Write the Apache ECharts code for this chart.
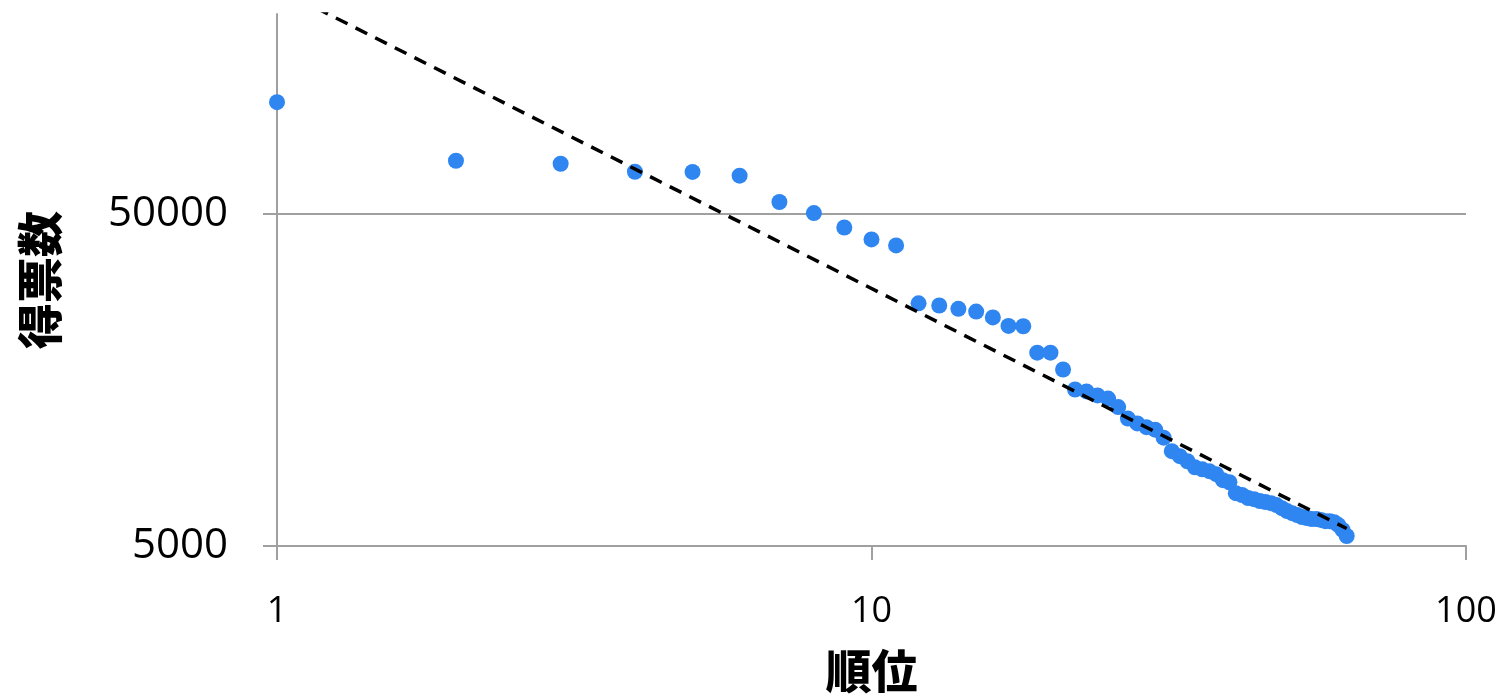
<!DOCTYPE html>
<html>
<head>
<meta charset="utf-8">
<script src="https://cdn.jsdelivr.net/npm/echarts@6/dist/echarts.min.js"></script>
<style>
html,body{margin:0;padding:0;background:#fff;}
#c{width:1503px;height:699px;}
</style>
</head>
<body>
<div id="c"></div>
<script>
// 順位 (rank)
const ranks = [];
for (let i = 1; i <= 63; i++) ranks.push(i);
// 得票数 (votes)
const votes = [
  108500, 72300, 70800, 67000, 66900, 65200, 54300, 50300, 45500, 41900,
  40200, 26900, 26500, 25900, 25400, 24400, 23000, 22950, 19100, 19100,
  17000, 14800, 14600, 14200, 13900, 13100, 12100, 11700, 11400, 11200,
  10600, 9650, 9320, 9000, 8630, 8510, 8400, 8230, 7890, 7780,
  7210, 7120, 6970, 6920, 6830, 6780, 6730, 6640, 6500, 6370,
  6280, 6200, 6110, 6070, 6030, 6030, 5990, 5940, 5940, 5900,
  5780, 5590, 5360
];
const xTicks = [1, 10, 100];
const yTicks = [5000, 50000];

// power trendline (least squares in log-log space)
const lx = ranks.map(Math.log10), ly = votes.map(Math.log10);
const n = lx.length;
const mx = lx.reduce((a, b) => a + b, 0) / n, my = ly.reduce((a, b) => a + b, 0) / n;
let sxy = 0, sxx = 0;
for (let i = 0; i < n; i++) { sxy += (lx[i] - mx) * (ly[i] - my); sxx += (lx[i] - mx) ** 2; }
const slope = sxy / sxx, icpt = my - slope * mx;
const trendX = [ranks[0], ranks[n - 1]];
const trend = trendX.map(x => [x, Math.pow(10, icpt + slope * Math.log10(x))]);

const chart = echarts.init(document.getElementById('c'), null, {renderer: 'canvas'});
chart.setOption({
  animation: false,
  grid: {left: 277, right: 37, top: 14, bottom: 152},
  xAxis: {
    type: 'log', logBase: 10, min: 1, max: 100,
    name: '順位', nameLocation: 'middle', nameGap: 102,
    nameTextStyle: {fontFamily: 'Noto Sans CJK JP', fontWeight: 900, fontSize: 46, color: '#000'},
    axisLine: {lineStyle: {color: '#a0a0a0', width: 2}},
    axisTick: {show: true, length: 14, customValues: xTicks, lineStyle: {color: '#a0a0a0', width: 2}},
    axisLabel: {fontFamily: 'Open Sans', fontSize: 36, color: '#000', margin: 48,
      customValues: xTicks, formatter: v => String(Math.round(v))},
    splitLine: {show: false}
  },
  yAxis: {
    type: 'log', logBase: 10, min: 5000, max: 200000,
    name: '得票数', nameLocation: 'middle', nameGap: 214, nameRotate: 90,
    nameTextStyle: {fontFamily: 'Noto Sans CJK JP', fontWeight: 900, fontSize: 46, color: '#000'},
    axisLine: {show: true, lineStyle: {color: '#a0a0a0', width: 2}},
    axisTick: {show: true, length: 14, customValues: yTicks, lineStyle: {color: '#a0a0a0', width: 2}},
    axisLabel: {fontFamily: 'Open Sans', fontSize: 42, color: '#000', margin: 49,
      customValues: yTicks, formatter: v => String(Math.round(v))},
    splitLine: {show: true, lineStyle: {color: '#a0a0a0', width: 2}}
  },
  series: [
    {
      type: 'scatter',
      data: ranks.map((r, i) => [r, votes[i]]),
      symbol: 'circle', symbolSize: 16,
      itemStyle: {color: '#2f86f1', opacity: 1},
      z: 2
    },
    {
      type: 'line',
      data: trend,
      clip: true,
      showSymbol: false, symbol: 'none',
      lineStyle: {color: '#000', width: 3.5, type: [13, 9]},
      z: 3
    }
  ]
});
</script>
</body>
</html>
